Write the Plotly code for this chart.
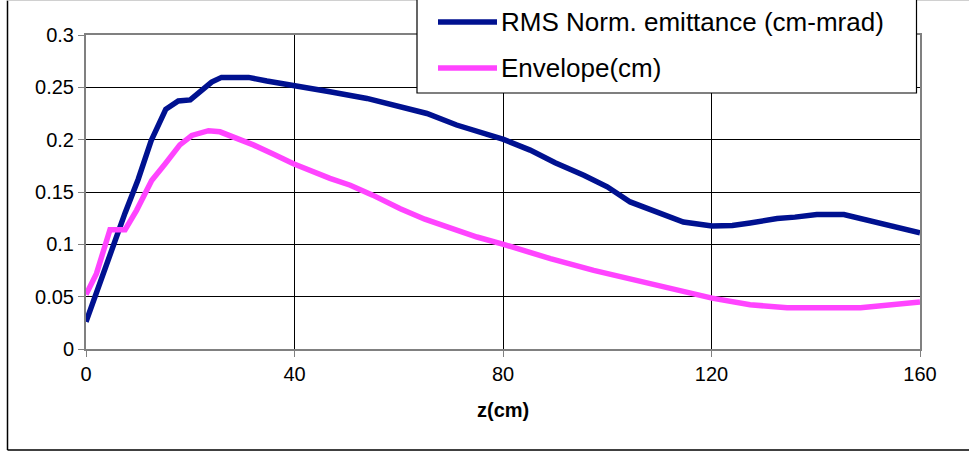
import plotly.graph_objects as go

# Beam line data along z (cm)
z_emit = [0, 2.5, 5, 7.5, 10, 12.5, 15.3, 17.7, 20, 22, 24.1, 26, 31.2, 34.7,
          39.8, 43, 46.8, 53.9, 60, 65.4, 71.1, 75.6, 80.1, 85.2, 90, 95.5,
          100, 104.4, 110.2, 114.6, 120.1, 124, 127.4, 132.6, 136, 140.2,
          145.4, 149.8, 155, 160]
emittance = [0.026, 0.061, 0.097, 0.13, 0.162, 0.199, 0.229, 0.237, 0.238,
             0.246, 0.255, 0.2595, 0.2595, 0.256, 0.252, 0.25, 0.2457, 0.2394,
             0.232, 0.225, 0.214, 0.2075, 0.2002, 0.19, 0.178, 0.166, 0.155,
             0.1405, 0.129, 0.1213, 0.1175, 0.118, 0.1204, 0.1246, 0.126,
             0.1284, 0.1284, 0.123, 0.1175, 0.111]

z_env = [0, 2, 4.6, 7.5, 9.7, 11.65, 12.6, 15.2, 18, 20.3, 23.5, 25.7, 28.3,
         32.1, 36, 39.8, 46.8, 50.7, 55, 60.3, 65, 69.9, 75, 80.1, 89.1, 97.4,
         104.4, 111.5, 120.1, 127.4, 134.5, 148.6, 156.2, 160]
envelope = [0.052, 0.072, 0.114, 0.114, 0.1325, 0.152, 0.161, 0.177, 0.195,
            0.204, 0.2086, 0.2075, 0.2027, 0.195, 0.186, 0.177, 0.163, 0.1565,
            0.147, 0.134, 0.124, 0.115, 0.107, 0.1, 0.0863, 0.0751, 0.067,
            0.0576, 0.0486, 0.0423, 0.0394, 0.0394, 0.0423, 0.0448]

x_ticks = [0, 40, 80, 120, 160]
y_ticks = [0, 0.05, 0.1, 0.15, 0.2, 0.25, 0.3]
y_tick_text = ["0", "0.05", "0.1", "0.15", "0.2", "0.25", "0.3"]

names = ["RMS Norm. emittance (cm-mrad)", "Envelope(cm)"]
colors = ["#001190", "#ff44ff"]

W, H = 969, 453
L, R, T, B = 86, 49, 35, 104
PW, PH = W - L - R, H - T - B


def px(x):
    return (x - L) / PW


def py(y):
    return (H - B - y) / PH


FONT = "Liberation Sans, Arial, sans-serif"

fig = go.Figure()
for zz, vv, name, col in [(z_emit, emittance, names[0], colors[0]),
                          (z_env, envelope, names[1], colors[1])]:
    fig.add_trace(go.Scatter(x=zz, y=vv, mode="lines", name=name,
                             line=dict(color=col, width=5.5),
                             showlegend=False, cliponaxis=False))

shapes = [
    # outer chart frame
    dict(type="line", xref="paper", yref="paper", x0=px(7.5), x1=px(7.5),
         y0=py(0.5), y1=py(450), line=dict(color="black", width=1.5)),
    dict(type="line", xref="paper", yref="paper", x0=px(7.5), x1=px(1000),
         y0=py(450), y1=py(450), line=dict(color="black", width=1.5)),
    dict(type="line", xref="paper", yref="paper", x0=px(7.5), x1=px(1000),
         y0=py(0.5), y1=py(0.5), line=dict(color="#d0d0d0", width=1)),
    # legend box
    dict(type="rect", xref="paper", yref="paper", x0=px(417), x1=px(916.5),
         y0=py(93), y1=py(-3), fillcolor="white",
         line=dict(color="black", width=1.2), layer="above"),
]
annotations = []
for i, (name, col) in enumerate(zip(names, colors)):
    yrow = 22 + 46 * i
    shapes.append(dict(type="line", xref="paper", yref="paper",
                       x0=px(438), x1=px(497), y0=py(yrow), y1=py(yrow),
                       line=dict(color=col, width=5.5), layer="above"))
    annotations.append(dict(text=name, xref="paper", yref="paper",
                            x=px(499), y=py(yrow), xanchor="left",
                            yanchor="middle", showarrow=False,
                            font=dict(family=FONT, size=26, color="black")))

annotations.append(dict(text="<b>z(cm)</b>", xref="paper", yref="paper",
                        x=0.5, y=py(410), xanchor="center", yanchor="middle",
                        showarrow=False,
                        font=dict(family=FONT, size=20, color="black")))

fig.update_layout(
    width=W, height=H,
    margin=dict(l=L, r=R, t=T, b=B, pad=0),
    paper_bgcolor="white", plot_bgcolor="white",
    font=dict(family=FONT, size=20, color="black"),
    shapes=shapes, annotations=annotations,
    xaxis=dict(range=[0, 160], tickvals=x_ticks, showgrid=True,
               gridcolor="black", gridwidth=1, zeroline=False,
               showline=True, linecolor="#808080", linewidth=2, mirror=True,
               ticks="outside", ticklen=6, tickcolor="#808080",
               tickfont=dict(size=20)),
    yaxis=dict(range=[0, 0.3], tickvals=y_ticks, ticktext=y_tick_text,
               showgrid=True, gridcolor="black", gridwidth=1, zeroline=False,
               showline=True, linecolor="#808080", linewidth=2, mirror=True,
               ticks="outside", ticklen=6, tickcolor="#808080",
               tickfont=dict(size=20)),
)

fig.write_html("out.html")
